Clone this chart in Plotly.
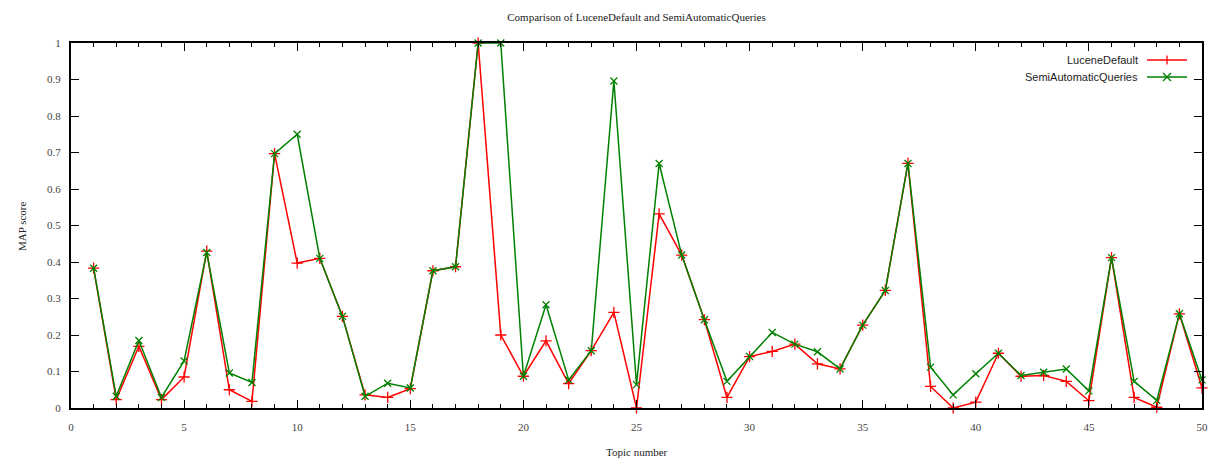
import plotly.graph_objects as go

topics = list(range(1, 51))
lucene_default = [0.383, 0.023, 0.169, 0.023, 0.085, 0.430, 0.050, 0.018, 0.697, 0.397,
                  0.410, 0.251, 0.036, 0.029, 0.053, 0.376, 0.387, 1.000, 0.200, 0.087,
                  0.184, 0.067, 0.157, 0.262, 0.000, 0.532, 0.419, 0.242, 0.029, 0.141,
                  0.155, 0.175, 0.121, 0.107, 0.227, 0.322, 0.670, 0.059, 0.000, 0.016,
                  0.150, 0.087, 0.089, 0.073, 0.020, 0.412, 0.029, 0.002, 0.258, 0.055]
semi_automatic = [0.383, 0.032, 0.185, 0.029, 0.129, 0.426, 0.096, 0.070, 0.697, 0.750,
                  0.410, 0.251, 0.032, 0.068, 0.055, 0.376, 0.387, 1.000, 1.000, 0.087,
                  0.283, 0.077, 0.157, 0.896, 0.064, 0.670, 0.419, 0.242, 0.073, 0.141,
                  0.207, 0.175, 0.154, 0.107, 0.227, 0.322, 0.670, 0.112, 0.036, 0.094,
                  0.150, 0.089, 0.098, 0.107, 0.047, 0.412, 0.073, 0.021, 0.258, 0.077]
series_names = ["LuceneDefault", "SemiAutomaticQueries"]
series_colors = ["#ff0000", "#008000"]
y_tick_vals = [0, 0.1, 0.2, 0.3, 0.4, 0.5, 0.6, 0.7, 0.8, 0.9, 1]
y_tick_text = ["0", "0.1", "0.2", "0.3", "0.4", "0.5", "0.6", "0.7", "0.8", "0.9", "1"]
x_tick_vals = [0, 5, 10, 15, 20, 25, 30, 35, 40, 45, 50]

W, H = 1212, 459
L, R, T, B = 71, 10, 43, 51

fig = go.Figure()
fig.add_trace(go.Scatter(x=topics, y=lucene_default, mode="lines+markers", name=series_names[0],
                         line=dict(color=series_colors[0], width=1.5),
                         marker=dict(symbol="cross-thin", size=8,
                                     line=dict(color=series_colors[0], width=1.3)),
                         showlegend=False, cliponaxis=False))
fig.add_trace(go.Scatter(x=topics, y=semi_automatic, mode="lines+markers", name=series_names[1],
                         line=dict(color=series_colors[1], width=1.5),
                         marker=dict(symbol="x-thin", size=7,
                                     line=dict(color=series_colors[1], width=1.3)),
                         showlegend=False, cliponaxis=False))

serif = "Liberation Serif, Times New Roman, serif"
axis_common = dict(showline=True, linecolor="black", linewidth=2, mirror="allticks",
                   ticks="inside", ticklen=8, tickwidth=1.2, tickcolor="black",
                   showgrid=False, zeroline=False, automargin=False,
                   tickfont=dict(family=serif, size=11, color="#444"))

fig.update_xaxes(range=[0, 50], tickvals=x_tick_vals, ticktext=[str(v) for v in x_tick_vals],
                 minor=dict(dtick=1, tick0=0, ticks="inside", ticklen=4, tickwidth=1.2,
                            tickcolor="black", showgrid=False),
                 ticklabelstandoff=8,
                 **axis_common)
fig.update_yaxes(range=[0, 1], tickvals=y_tick_vals, ticktext=y_tick_text,
                 ticklabelstandoff=6,
                 **axis_common)

pw = W - L - R
ph = H - T - B
def px(xp):
    return (xp - L) / pw
def py(yp):
    return (H - B - yp) / ph

# axis titles
fig.add_annotation(x=px(L + pw / 2), y=py(452), xref="paper", yref="paper", text="Topic number",
                   showarrow=False, xanchor="center", yanchor="middle",
                   font=dict(family=serif, size=11, color="#222"))
fig.add_annotation(x=px(22), y=py(226), xref="paper", yref="paper", text="MAP score",
                   showarrow=False, xanchor="center", yanchor="middle", textangle=-90,
                   font=dict(family=serif, size=11, color="#222"))

# gnuplot-style legend (text right-aligned, sample on the right)
legend_rows = [(60, series_names[0], series_colors[0], "plus"),
               (77, series_names[1], series_colors[1], "x")]
for yp, name, col, kind in legend_rows:
    fig.add_annotation(x=px(1140), y=py(yp), xref="paper", yref="paper", text=name,
                       showarrow=False, xanchor="right", yanchor="middle",
                       font=dict(family="Liberation Sans, Arial, sans-serif", size=11, color="#222"))
    fig.add_shape(type="line", xref="paper", yref="paper", x0=px(1147), x1=px(1187),
                  y0=py(yp), y1=py(yp), line=dict(color=col, width=1.5))
    cx, cy = 1167, yp
    if kind == "plus":
        fig.add_shape(type="line", xref="paper", yref="paper", x0=px(cx), x1=px(cx),
                      y0=py(cy - 4.5), y1=py(cy + 4.5), line=dict(color=col, width=1.3))
    else:
        fig.add_shape(type="line", xref="paper", yref="paper", x0=px(cx - 4), x1=px(cx + 4),
                      y0=py(cy - 4), y1=py(cy + 4), line=dict(color=col, width=1.3))
        fig.add_shape(type="line", xref="paper", yref="paper", x0=px(cx - 4), x1=px(cx + 4),
                      y0=py(cy + 4), y1=py(cy - 4), line=dict(color=col, width=1.3))

fig.update_layout(
    width=W, height=H,
    margin=dict(l=L, r=R, t=T, b=B, autoexpand=False),
    paper_bgcolor="white", plot_bgcolor="white",
    title=dict(text="Comparison of LuceneDefault and SemiAutomaticQueries",
               x=(L + pw / 2) / W, xanchor="center", y=1 - 17 / H, yanchor="middle",
               font=dict(family=serif, size=11, color="#222")),
)

fig.write_html("out.html")
